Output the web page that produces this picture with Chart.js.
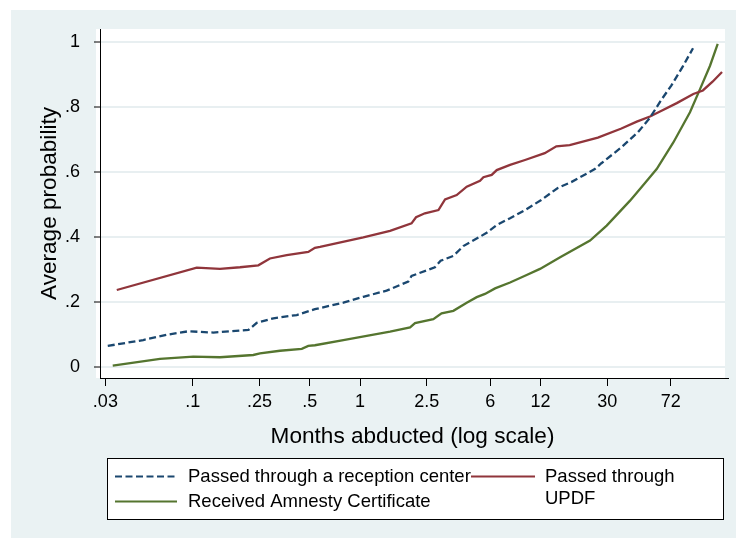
<!DOCTYPE html>
<html>
<head>
<meta charset="utf-8">
<title>Average probability by months abducted</title>
<script src="https://cdn.jsdelivr.net/npm/chart.js@4/dist/chart.umd.min.js"></script>
<style>
  html, body { margin: 0; padding: 0; background: #ffffff; }
  canvas { display: block; }
</style>
</head>
<body>
<canvas id="chart" width="736" height="538"></canvas>
<script>
// Months abducted (x) and average probability (y) for each group
const centerMonths = [0.031, 0.0505, 0.070, 0.094, 0.1325, 0.215, 0.241, 0.303, 0.418, 0.537, 0.794, 1.045, 1.44, 1.94, 2.03, 2.80, 3.03, 3.61, 4.14, 5.21, 5.71, 6.56, 7.88, 9.68, 12.1, 15.2, 18.3, 25.3, 27.7, 36.5, 45.9, 53.9, 63.2, 72.5, 85.2, 97.8];
const centerProb   = [0.064, 0.082, 0.098, 0.109, 0.105, 0.113, 0.135, 0.149, 0.159, 0.177, 0.197, 0.215, 0.234, 0.262, 0.279, 0.306, 0.326, 0.341, 0.371, 0.400, 0.412, 0.436, 0.457, 0.482, 0.513, 0.550, 0.568, 0.608, 0.626, 0.675, 0.722, 0.765, 0.821, 0.865, 0.925, 0.980];

const updfMonths = [0.0351, 0.1055, 0.1453, 0.1914, 0.2463, 0.289, 0.364, 0.490, 0.537, 0.576, 1.045, 1.51, 2.03, 2.16, 2.44, 2.94, 3.22, 3.78, 4.34, 5.21, 5.46, 6.12, 6.56, 7.88, 9.68, 12.7, 14.9, 17.9, 26.4, 36.5, 45.1, 54.1, 62.1, 78.2, 98.2, 112, 128, 145.8];
const updfProb   = [0.236, 0.305, 0.301, 0.306, 0.312, 0.333, 0.343, 0.353, 0.366, 0.369, 0.398, 0.418, 0.441, 0.460, 0.472, 0.482, 0.515, 0.528, 0.554, 0.572, 0.583, 0.590, 0.605, 0.621, 0.636, 0.657, 0.678, 0.682, 0.705, 0.733, 0.754, 0.770, 0.785, 0.811, 0.839, 0.850, 0.877, 0.907];

const amnestyMonths = [0.0332, 0.0636, 0.1006, 0.1453, 0.2299, 0.252, 0.332, 0.448, 0.490, 0.537, 0.794, 1.095, 1.51, 1.99, 2.13, 2.74, 3.07, 3.61, 4.34, 4.98, 5.58, 6.41, 7.88, 9.68, 11.9, 15.7, 23.7, 29.8, 41.1, 50.5, 59.3, 74.6, 93.8, 107.7, 123.6, 137.4];
const amnestyProb   = [0.003, 0.024, 0.031, 0.029, 0.036, 0.041, 0.049, 0.055, 0.064, 0.066, 0.082, 0.095, 0.108, 0.121, 0.134, 0.146, 0.164, 0.172, 0.197, 0.214, 0.224, 0.241, 0.259, 0.280, 0.301, 0.337, 0.388, 0.434, 0.511, 0.565, 0.608, 0.690, 0.783, 0.854, 0.926, 0.993];

// Axis ticks
const xTickValues = [0.03, 0.1, 0.25, 0.5, 1, 2.5, 6, 12, 30, 72];
const xTickLabels = ['.03', '.1', '.25', '.5', '1', '2.5', '6', '12', '30', '72'];
const yTickValues = [0, 0.2, 0.4, 0.6, 0.8, 1];
const yTickLabels = ['0', '.2', '.4', '.6', '.8', '1'];

const seriesNames = ['Passed through a reception center', 'Passed through UPDF', 'Received Amnesty Certificate'];

const FONT = "'Liberation Sans', Arial, Helvetica, sans-serif";
const NAVY = '#1a476f';
const MAROON = '#90353b';
const GREEN = '#55752f';
const BG = '#eaf2f3';
const DASH = [7, 3.5];

function points(xs, ys) {
  return xs.map((x, i) => ({ x: x, y: ys[i] }));
}

// Outer graph region, white plot region and the boxed legend
const framePlugin = {
  id: 'frame',
  beforeDraw(chart) {
    const ctx = chart.ctx;
    const a = chart.chartArea;
    ctx.save();
    ctx.fillStyle = BG;
    ctx.fillRect(11, 10, chart.width - 11, chart.height - 10);
    ctx.fillStyle = '#ffffff';
    ctx.fillRect(a.left - 4, a.top, a.right - a.left + 4, a.bottom - a.top);
    ctx.restore();
  },
  afterDraw(chart) {
    const ctx = chart.ctx;
    const a = chart.chartArea;
    ctx.save();
    // x axis line runs a little past the plot region
    ctx.strokeStyle = '#000';
    ctx.lineWidth = 1;
    ctx.beginPath();
    ctx.moveTo(a.right - 1, a.bottom + 0.5);
    ctx.lineTo(a.right + 4, a.bottom + 0.5);
    ctx.stroke();

    // legend box
    const lx = 107, ly = 458, lw = 616, lh = 61;
    ctx.fillStyle = '#ffffff';
    ctx.fillRect(lx, ly, lw, lh);
    ctx.strokeStyle = '#000';
    ctx.lineWidth = 1;
    ctx.strokeRect(lx + 0.5, ly + 0.5, lw, lh);

    const sample = (x1, x2, y, color, dash) => {
      ctx.save();
      ctx.strokeStyle = color;
      ctx.lineWidth = 2.2;
      ctx.setLineDash(dash || []);
      ctx.beginPath();
      ctx.moveTo(x1, y);
      ctx.lineTo(x2, y);
      ctx.stroke();
      ctx.restore();
    };
    sample(115, 177, 476.5, NAVY, DASH);
    sample(115, 177, 501.5, GREEN);
    sample(471, 535, 476.5, MAROON);

    ctx.fillStyle = '#000';
    ctx.font = '18.5px ' + FONT;
    ctx.textBaseline = 'middle';
    ctx.textAlign = 'left';
    ctx.fillText(seriesNames[0], 188, 477);
    ctx.fillText(seriesNames[2], 188, 502);
    ctx.fillText('Passed through', 545, 477);
    ctx.fillText('UPDF', 545, 499);
    ctx.restore();
  }
};

const ctx = document.getElementById('chart').getContext('2d');
new Chart(ctx, {
  type: 'line',
  data: {
    datasets: [
      {
        label: seriesNames[0],
        data: points(centerMonths, centerProb),
        borderColor: NAVY,
        borderWidth: 2.3,
        borderDash: DASH,
        pointRadius: 0,
        tension: 0,
        fill: false
      },
      {
        label: seriesNames[1],
        data: points(updfMonths, updfProb),
        borderColor: MAROON,
        borderWidth: 2.3,
        pointRadius: 0,
        tension: 0,
        fill: false
      },
      {
        label: seriesNames[2],
        data: points(amnestyMonths, amnestyProb),
        borderColor: GREEN,
        borderWidth: 2.3,
        pointRadius: 0,
        tension: 0,
        fill: false
      }
    ]
  },
  options: {
    responsive: false,
    animation: false,
    devicePixelRatio: 1,
    layout: { padding: { top: 29, right: 11, left: 0, bottom: 0 } },
    plugins: {
      legend: { display: false },
      tooltip: { enabled: false }
    },
    scales: {
      x: {
        type: 'logarithmic',
        min: 0.02786,
        max: 151.9,
        afterBuildTicks(scale) {
          scale.ticks = xTickValues.map(v => ({ value: v }));
        },
        afterFit(scale) { scale.height = 160; },
        grid: {
          color: 'rgba(0,0,0,0)',
          drawOnChartArea: false,
          tickColor: '#000',
          tickLength: 8,
          tickWidth: 1
        },
        border: { display: true, color: '#000', width: 1 },
        ticks: {
          autoSkip: false,
          maxRotation: 0,
          padding: 5,
          color: '#000',
          font: { family: FONT, size: 18 },
          callback: (value, index) => xTickLabels[index]
        },
        title: {
          display: true,
          text: 'Months abducted (log scale)',
          color: '#000',
          font: { family: FONT, size: 22.6 },
          padding: { top: 0, bottom: 88 }
        }
      },
      y: {
        type: 'linear',
        min: -0.0348,
        max: 1.0391,
        afterBuildTicks(scale) {
          scale.ticks = yTickValues.map(v => ({ value: v }));
        },
        afterFit(scale) { scale.width = 100; },
        grid: {
          color: '#e8eff1',
          lineWidth: 2,
          tickColor: '#000',
          tickLength: 6,
          tickWidth: 1
        },
        border: { display: true, color: '#000', width: 1 },
        ticks: {
          padding: 14,
          color: '#000',
          font: { family: FONT, size: 18 },
          callback: (value, index) => yTickLabels[index]
        },
        title: {
          display: true,
          text: 'Average probability',
          color: '#000',
          font: { family: FONT, size: 22.6 },
          padding: { top: 36, bottom: 0 }
        }
      }
    }
  },
  plugins: [framePlugin]
});
</script>
</body>
</html>
